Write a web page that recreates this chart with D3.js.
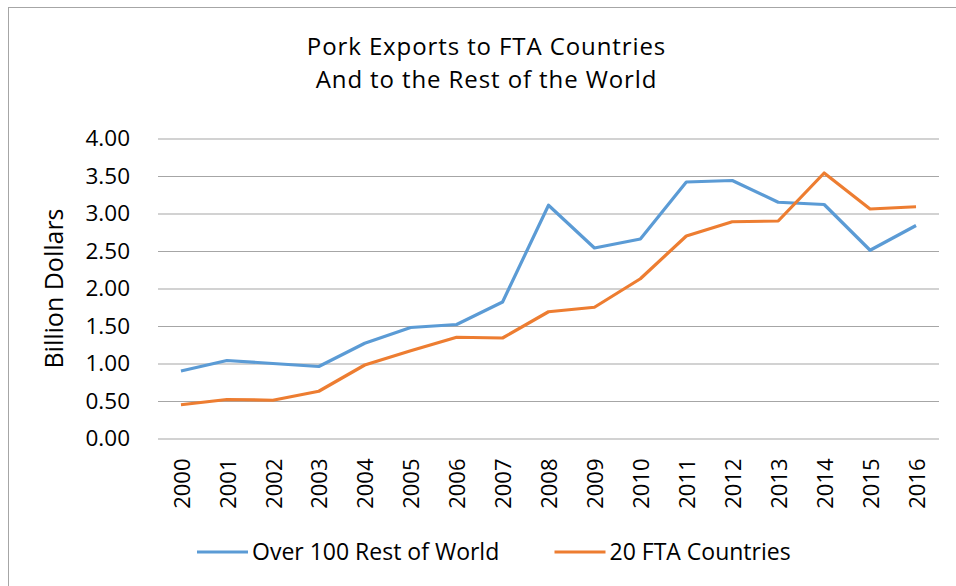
<!DOCTYPE html>
<html>
<head>
<meta charset="utf-8">
<script src="https://cdn.jsdelivr.net/npm/d3@7"></script>
<style>
  html, body { margin: 0; padding: 0; background: #fff; }
  svg { display: block; }
  text { font-family: "Open Sans", "Noto Sans", sans-serif; fill: #000; }
</style>
</head>
<body>
<svg id="chart" width="956" height="586"></svg>
<script>
// Pork export values, billion dollars
const years = ["2000","2001","2002","2003","2004","2005","2006","2007","2008",
               "2009","2010","2011","2012","2013","2014","2015","2016"];
const restOfWorld = [0.90, 1.04, 1.00, 0.96, 1.27, 1.48, 1.52, 1.82, 3.11,
                     2.54, 2.66, 3.42, 3.44, 3.15, 3.12, 2.51, 2.84];
const ftaCountries = [0.45, 0.52, 0.51, 0.63, 0.98, 1.17, 1.35, 1.34, 1.69,
                      1.75, 2.13, 2.70, 2.89, 2.90, 3.54, 3.06, 3.09];
const yTicks = [0, 0.5, 1, 1.5, 2, 2.5, 3, 3.5, 4];
const seriesNames = ["Over 100 Rest of World", "20 FTA Countries"];
const seriesColors = ["#5B9BD5", "#ED7D31"];
const titleLines = ["Pork Exports to FTA Countries", "And to the Rest of the World"];
const yLabel = "Billion Dollars";

const svg = d3.select("#chart");
const W = 956, H = 586;
const plot = { left: 158, right: 939, top: 138.5, bottom: 438.5 };

// chart frame
svg.append("rect")
  .attr("x", 8.5).attr("y", 7.5)
  .attr("width", W + 20).attr("height", H + 20)
  .attr("fill", "#fff").attr("stroke", "#a6a6a6").attr("stroke-width", 1);

const x = d3.scaleBand().domain(years).range([plot.left, plot.right]);
const y = d3.scaleLinear().domain([0, 4]).range([plot.bottom, plot.top]);

// two-line title
svg.append("g").selectAll("text").data(titleLines).join("text")
  .attr("x", 486.5).attr("y", (d, i) => 54.5 + i * 33)
  .attr("text-anchor", "middle")
  .style("font-size", "24px")
  .style("letter-spacing", "0.9px")
  .text(d => d);

// horizontal gridlines and y tick labels
const yAxis = d3.axisLeft(y).tickValues(yTicks)
  .tickSize(-(plot.right - plot.left)).tickPadding(28)
  .tickFormat(d3.format(".2f"));
const yg = svg.append("g").attr("transform", `translate(${plot.left},0)`).call(yAxis);
yg.select(".domain").remove();
yg.selectAll(".tick line").attr("stroke", "#a6a6a6").attr("stroke-width", 1.2);
yg.selectAll(".tick text").style("font-size", "22.5px").attr("fill", "#000");

// x axis labels, rotated
const xAxis = d3.axisBottom(x).tickSize(0).tickPadding(0);
const xg = svg.append("g").attr("transform", `translate(0,${plot.bottom})`).call(xAxis);
xg.select(".domain").remove();
xg.selectAll(".tick text")
  .style("font-size", "22px").attr("fill", "#000")
  .attr("text-anchor", "end")
  .attr("dy", "0.35em")
  .attr("transform", "translate(1,20) rotate(-90)")
  .attr("x", 0).attr("y", 0);

// y axis title
svg.append("text")
  .attr("transform", `translate(54,${(plot.top + plot.bottom) / 2}) rotate(-90)`)
  .attr("text-anchor", "middle")
  .attr("dy", "0.35em")
  .style("font-size", "25px")
  .text(yLabel);

// series lines
const line = d3.line()
  .x((d, i) => x(years[i]) + x.bandwidth() / 2)
  .y(d => y(d));
[restOfWorld, ftaCountries].forEach((vals, k) => {
  svg.append("path").datum(vals)
    .attr("d", line)
    .attr("fill", "none")
    .attr("stroke", seriesColors[k])
    .attr("stroke-width", 3.2)
    .attr("stroke-linejoin", "round");
});

// legend
const legendX = [197, 554.5];
const lg = svg.append("g").selectAll("g").data(seriesNames).join("g")
  .attr("transform", (d, i) => `translate(${legendX[i]},552)`);
lg.append("line").attr("x1", 0).attr("x2", 51).attr("y1", 0).attr("y2", 0)
  .attr("stroke", (d, i) => seriesColors[i]).attr("stroke-width", 3.2);
lg.append("text").attr("x", 55).attr("dy", "0.35em")
  .style("font-size", "23px").text(d => d);
</script>
</body>
</html>
